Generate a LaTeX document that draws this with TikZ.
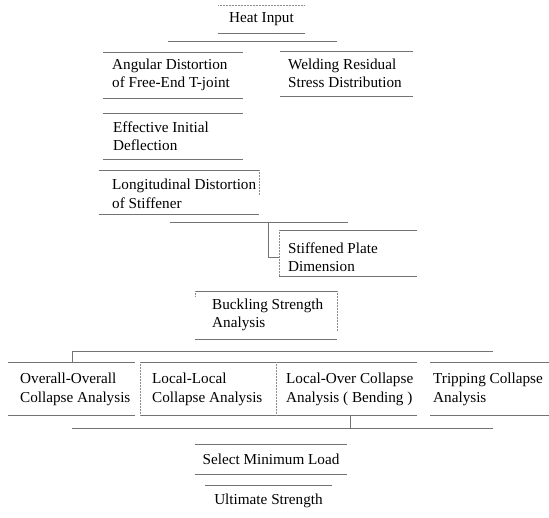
\documentclass[tikz,border=0pt]{standalone}
\usepackage{fontspec}
\setmainfont{Liberation Serif}
\begin{document}
\begin{tikzpicture}[x=1pt,y=-1pt,
  rule/.style={draw=black!55, line width=0.6pt},
  side/.style={draw=black!45, line width=0.5pt, densely dotted},
  area/.style={rectangle, draw=none, anchor=north west, inner sep=0pt, outer sep=0pt},
  txt/.style={align=left, inner sep=0pt, font=\fontsize{15.2}{18.5}\selectfont, text=black},
]
\useasboundingbox (0,0) rectangle (549,517);
\newcommand\tbrules[1]{\draw[rule] (#1.north west) -- (#1.north east) (#1.south west) -- (#1.south east);}

% box areas
\node[area, minimum width=87,  minimum height=28] (heatB) at (218,5) {};
\node[area, minimum width=140, minimum height=46] (angB)  at (103,52) {};
\node[area, minimum width=133, minimum height=45] (weldB) at (280,51) {};
\node[area, minimum width=140, minimum height=46] (effB)  at (103,113) {};
\node[area, minimum width=160, minimum height=44] (lonB)  at (99,170) {};
\node[area, minimum width=138, minimum height=46] (stfB)  at (279,230) {};
\node[area, minimum width=142, minimum height=48] (bucB)  at (195,291) {};
\node[area, minimum width=127, minimum height=53] (ovB)   at (8,362) {};
\node[area, minimum width=136, minimum height=53] (llB)   at (140,362) {};
\node[area, minimum width=141, minimum height=53] (loB)   at (276,362) {};
\node[area, minimum width=119, minimum height=53] (trB)   at (430,362) {};
\node[area, minimum width=152, minimum height=30] (selB)  at (195,444) {};
\node[area, minimum width=127, minimum height=32] (ultB)  at (205,485) {};

% texts
\node[txt] (heat) at (heatB.center) {Heat Input};
\node[txt, anchor=west] (ang)  at ([xshift=9pt]angB.west)  {Angular Distortion\\of Free-End T-joint};
\node[txt, anchor=west] (weld) at ([xshift=8pt]weldB.west) {Welding Residual\\Stress Distribution};
\node[txt, anchor=west] (eff)  at ([xshift=10pt]effB.west) {Effective Initial\\Deflection};
\node[txt, anchor=west] (lon)  at ([xshift=13pt,yshift=-2pt]lonB.west) {Longitudinal Distortion\\of Stiffener};
\node[txt, anchor=west] (stf)  at ([xshift=9pt,yshift=-4pt]stfB.west) {Stiffened Plate\\Dimension};
\node[txt, anchor=west] (buc)  at ([xshift=17pt]bucB.west) {Buckling Strength\\Analysis};
\node[txt, anchor=west] (ov)   at ([xshift=12pt,yshift=-1pt]ovB.west) {Overall-Overall\\Collapse Analysis};
\node[txt, anchor=west] (ll)   at ([xshift=12pt,yshift=-1pt]llB.west) {Local-Local\\Collapse Analysis};
\node[txt, anchor=west] (lo)   at ([xshift=10pt,yshift=-1pt]loB.west) {Local-Over Collapse\\Analysis ( Bending )};
\node[txt, anchor=west] (tr)   at ([xshift=3pt,yshift=-1pt]trB.west) {Tripping Collapse\\Analysis};
\node[txt] (sel) at (selB.center) {Select Minimum Load};
\node[txt] (ult) at (ultB.center) {Ultimate Strength};

% box rules (top and bottom)
\draw[side] (heatB.north west) -- (heatB.north east);
\draw[rule] (heatB.south west) -- (heatB.south east);
\tbrules{angB}
\tbrules{weldB}
\tbrules{effB}
\tbrules{lonB}
\tbrules{stfB}
\tbrules{bucB}
\tbrules{ovB}
\tbrules{llB}
\tbrules{loB}
\tbrules{trB}
\tbrules{selB}
\draw[rule] (ultB.north west) -- (ultB.north east);

% faint sides
\draw[side] (lonB.north east) -- ([yshift=-25pt]lonB.north east);
\draw[side] (stfB.north west) -- (stfB.south west);
\draw[side] (bucB.north west) -- ([yshift=-6pt]bucB.north west);
\draw[side] (bucB.north east) -- ([yshift=-40pt]bucB.north east);
\draw[side] (llB.north west) -- (llB.south west);
\draw[side] (llB.north east) -- (llB.south east);

% buses and connectors
\coordinate (b1L) at (168,41);  \coordinate (b1R) at (337,41);
\draw[rule] (b1L) -- (b1R);
\coordinate (b2L) at (170,222); \coordinate (b2R) at (348,222); \coordinate (b2j) at (268,222);
\draw[rule] (b2L) -- (b2R);
\draw[rule] (b2j) |- ([yshift=-4pt]stfB.west);
\coordinate (b3L) at (72,351);  \coordinate (b3R) at (493,351);
\draw[rule] (b3L) -- (b3R);
\draw[rule] (b3L) -- (b3L |- ovB.north);
\coordinate (b4L) at (72,428);  \coordinate (b4R) at (493,428); \coordinate (b4j) at (350,428);
\draw[rule] (b4L) -- (b4R);
\draw[rule] (b4j) -- (b4j |- loB.south);
\end{tikzpicture}
\end{document}
